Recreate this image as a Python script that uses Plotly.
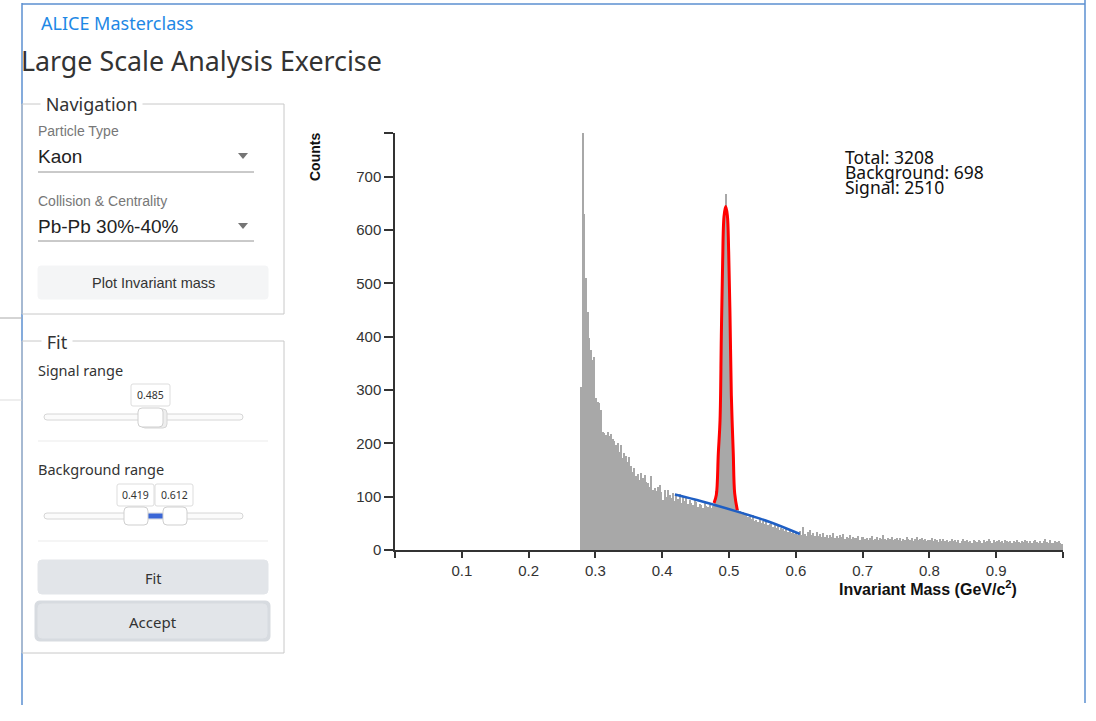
import plotly.graph_objects as go

# ---------------- data ----------------
bin_start = 0.2775
bin_width = 0.0025
counts = [
    306,
    782, 630, 510, 447,   # 0.28
    398, 375, 356, 362,   # 0.29
    285, 278, 275, 262,   # 0.30
    222, 219, 216, 221,   # 0.31
    214, 218, 209, 204,   # 0.32
    197, 201, 183, 196,   # 0.33
    172, 181, 176, 165,   # 0.34
    175, 157, 147, 153,   # 0.35
    138, 142, 131, 145,   # 0.36
    135, 141, 128, 125,   # 0.37
    119, 139, 113, 116,   # 0.38
    110, 119, 122, 108,   # 0.39
    94, 112, 100, 113,    # 0.40
    104, 98, 106, 92,     # 0.41
    101, 95, 105, 88,     # 0.42
    99, 91, 97, 86,       # 0.43
    93, 88, 84, 95,       # 0.44
    90, 81, 87, 85,       # 0.45
    79, 88, 83, 80,       # 0.46
    84, 78, 82, 92,       # 0.47
    110, 170, 260, 420,   # 0.48
    560, 630, 668, 600,   # 0.49
    470, 300, 170, 100,   # 0.50
    80, 76, 74, 70,       # 0.51
    72, 66, 68, 61,       # 0.52
    63, 58, 65, 55,       # 0.53
    57, 53, 59, 50,       # 0.54
    54, 49, 56, 47,       # 0.55
    48, 51, 44, 46,       # 0.56
    42, 45, 38, 41,       # 0.57
    39, 36, 40, 33,       # 0.58
    35, 31, 36, 30,       # 0.59
    33, 29, 35, 28,       # 0.60
    44, 30, 27, 33,       # 0.61
    37, 29, 31, 26,       # 0.62
    34, 27, 30, 25,       # 0.63
    31, 24, 28, 22,       # 0.64
    29, 25, 31, 23,       # 0.65
    26, 22, 28, 24,       # 0.66
    30, 21, 25, 23,       # 0.67
    28, 20, 24, 22,       # 0.68
    23, 26, 19, 24,       # 0.69
    25, 21, 23, 18,       # 0.70
    22, 27, 19, 21,       # 0.71
    24, 18, 22, 20,       # 0.72
    28, 21, 19, 23,       # 0.73
    20, 24, 18, 21,       # 0.74
    22, 19, 23, 17,       # 0.75
    21, 18, 24, 20,       # 0.76
    19, 23, 17, 21,       # 0.77
    25, 18, 20, 22,       # 0.78
    18, 21, 16, 19,       # 0.79
    19, 22, 17, 20,       # 0.80
    18, 15, 21, 17,       # 0.81
    20, 16, 19, 15,       # 0.82
    17, 20, 16, 18,       # 0.83
    15, 19, 14, 17,       # 0.84
    21, 16, 18, 15,       # 0.85
    17, 14, 19, 16,       # 0.86
    15, 18, 16, 14,       # 0.87
    19, 15, 17, 20,       # 0.88
    16, 14, 18, 15,       # 0.89
    17, 19, 15, 16,       # 0.90
    14, 18, 16, 15,       # 0.91
    16, 13, 17, 15,       # 0.92
    18, 15, 14, 17,       # 0.93
    15, 19, 16, 13,       # 0.94
    17, 14, 16, 18,       # 0.95
    15, 13, 17, 14,       # 0.96
    16, 20, 15, 14,       # 0.97
    18, 14, 13, 16,       # 0.98
    15, 17, 13, 12,       # 0.99
]

signal_fit_x = [0.4776, 0.4810, 0.4840, 0.4866, 0.4885, 0.4905, 0.4925, 0.4950,
                0.4975, 0.4995, 0.5015, 0.5035, 0.5050, 0.5064, 0.5085, 0.5124]
signal_fit_y = [88, 103, 181, 244, 400, 540, 625, 644,
                628, 560, 440, 290, 230, 181, 106, 75]

background_fit_x = [0.419, 0.460, 0.515, 0.560, 0.606]
background_fit_y = [104, 91, 71, 53, 30]

x_tick_vals = [0.1, 0.2, 0.3, 0.4, 0.5, 0.6, 0.7, 0.8, 0.9]
x_tick_text = ["0.1", "0.2", "0.3", "0.4", "0.5", "0.6", "0.7", "0.8", "0.9"]
x_end_ticks = [0.0, 1.0]
y_tick_vals = [0, 100, 200, 300, 400, 500, 600, 700]
y_tick_text = ["0", "100", "200", "300", "400", "500", "600", "700"]
y_max = 782

total_count = 3208
background_count = 698
signal_count = 2510

# ---------------- geometry helpers ----------------
W, H = 1096, 721


def px(x):
    return x / W


def py(y):
    return 1 - y / H


shapes = []
annotations = []


def rect(x0, y0, x1, y1, line="#cccccc", fill="rgba(0,0,0,0)", lw=1, layer="below"):
    shapes.append(dict(type="rect", xref="paper", yref="paper",
                       x0=px(x0), x1=px(x1), y0=py(y1), y1=py(y0),
                       line=dict(color=line, width=lw), fillcolor=fill, layer=layer))


def rrect(x0, y0, x1, y1, r, line="#cccccc", fill="white", lw=1, layer="above"):
    X0, X1 = px(x0), px(x1)
    Y0, Y1 = py(y0), py(y1)
    rx, ry = r / W, r / H
    p = (f"M{X0+rx},{Y0} L{X1-rx},{Y0} Q{X1},{Y0} {X1},{Y0-ry} "
         f"L{X1},{Y1+ry} Q{X1},{Y1} {X1-rx},{Y1} L{X0+rx},{Y1} "
         f"Q{X0},{Y1} {X0},{Y1+ry} L{X0},{Y0-ry} Q{X0},{Y0} {X0+rx},{Y0} Z")
    shapes.append(dict(type="path", xref="paper", yref="paper", path=p,
                       line=dict(color=line, width=lw), fillcolor=fill, layer=layer))


def hline(x0, x1, y, color="#cccccc", lw=1, layer="below"):
    shapes.append(dict(type="line", xref="paper", yref="paper",
                       x0=px(x0), x1=px(x1), y0=py(y), y1=py(y),
                       line=dict(color=color, width=lw), layer=layer))


def vline(x, y0, y1, color="#cccccc", lw=1, layer="below"):
    shapes.append(dict(type="line", xref="paper", yref="paper",
                       x0=px(x), x1=px(x), y0=py(y0), y1=py(y1),
                       line=dict(color=color, width=lw), layer=layer))


def tri(cx, cy, color="#757575"):
    p = (f"M{px(cx-5)},{py(cy-3)} L{px(cx+5)},{py(cy-3)} L{px(cx)},{py(cy+3)} Z")
    shapes.append(dict(type="path", xref="paper", yref="paper", path=p,
                       line=dict(color=color, width=0), fillcolor=color, layer="above"))


def text(x, y, s, size=14, color="#333333", family="Noto Sans", xanchor="left",
         yanchor="middle", bg=None, textangle=0):
    a = dict(xref="paper", yref="paper", x=px(x), y=py(y), text=s, showarrow=False,
             xanchor=xanchor, yanchor=yanchor, textangle=textangle, borderpad=0,
             font=dict(size=size, color=color, family=family))
    if bg:
        a["bgcolor"] = bg
    annotations.append(a)


UI = "Noto Sans"
ARIAL = "Liberation Sans"

# window frame
frame_blue = "#5b8fd0"
vline(22, 3, 705, color=frame_blue, lw=1.5)
hline(22, 1085, 4, color=frame_blue, lw=1.5)
vline(1085, 0, 703, color=frame_blue, lw=1.5)
hline(0, 22, 318, color="#aaaaaa", lw=1)
hline(0, 22, 400, color="#dddddd", lw=1)

# header
text(40, 23, "ALICE Masterclass", size=18, color="#1e88e5", family=UI)
text(20, 61, "Large Scale Analysis Exercise", size=26.8, color="#333333", family=UI)

# Navigation fieldset
rect(22, 104, 284, 314, line="#c8c8c8")
text(40, 104, " Navigation ", size=18, color="#333333", family=UI, bg="white")
text(37, 131, "Particle Type", size=14, color="#777777", family=ARIAL)
text(37, 156, "Kaon", size=19, color="#222222", family=ARIAL)
tri(243, 156)
hline(38, 254, 172, color="#949494", lw=1)
text(37, 201, "Collision & Centrality", size=14, color="#777777", family=ARIAL)
text(37, 226, "Pb-Pb 30%-40%", size=19, color="#222222", family=ARIAL)
tri(243, 226)
hline(38, 254, 241, color="#949494", lw=1)
rrect(38, 266, 268, 299, 3, line="#f4f5f6", fill="#f4f5f6", layer="below")
text(153, 283, "Plot Invariant mass", size=14.5, color="#333333", family=ARIAL, xanchor="center")

# Fit fieldset
rect(22, 341, 284, 653, line="#c8c8c8")
text(41, 342, " Fit ", size=18, color="#333333", family=UI, bg="white")
text(37, 370, "Signal range", size=14.5, color="#333333", family=UI)
rrect(131, 384, 170, 406, 2, line="#dddddd", fill="white")
text(150.5, 395, "0.485", size=10.5, color="#333333", family=UI, xanchor="center")
rrect(44, 414, 243, 420, 3, line="#d6d6d6", fill="#fbfbfb", layer="below")
rrect(141, 409, 167, 428, 4, line="#d6d6d6", fill="#eeeeee")
rrect(138, 408, 163, 427, 4, line="#cfcfcf", fill="white")
hline(38, 268, 441, color="#ebebeb")
text(37, 469, "Background range", size=14.5, color="#333333", family=UI)
rrect(117, 484, 154, 506, 2, line="#dddddd", fill="white")
text(135.5, 495, "0.419", size=10.5, color="#333333", family=UI, xanchor="center")
rrect(155, 484, 193, 506, 2, line="#dddddd", fill="white")
text(174, 495, "0.612", size=10.5, color="#333333", family=UI, xanchor="center")
rrect(44, 513, 243, 519, 3, line="#d6d6d6", fill="#fbfbfb", layer="below")
rect(146, 514, 165, 518, line="#3b67d6", fill="#3b67d6", layer="above")
rrect(124, 507, 148, 525, 4, line="#cfcfcf", fill="white")
rrect(163, 507, 187, 525, 4, line="#cfcfcf", fill="white")
hline(38, 268, 541, color="#ebebeb")
rrect(38, 560, 268, 594, 4, line="#e2e5e9", fill="#e2e5e9", layer="below")
text(153, 578, "Fit", size=14.5, color="#333333", family=UI, xanchor="center")
rrect(35, 601, 270, 641, 5, line="#d7dbe0", fill="#d7dbe0", layer="below", lw=1)
rrect(38, 604, 267, 638, 4, line="#e2e5e9", fill="#e2e5e9", layer="below")
text(153, 622, "Accept", size=15, color="#333333", family=UI, xanchor="center")

# chart labels
text(315, 157, "<b>Counts</b>", size=14, color="#111111", family=ARIAL,
     xanchor="center", textangle=-90)
text(928, 588, "<b>Invariant Mass (GeV/c<sup>2</sup>)</b>", size=16, color="#111111",
     family=ARIAL, xanchor="center")
text(844, 157, f"Total: {total_count}", size=17.5, color="#111111", family=UI)
text(844, 172, f"Background: {background_count}", size=17.5, color="#111111", family=UI)
text(844, 187, f"Signal: {signal_count}", size=17.5, color="#111111", family=UI)

# ---------------- figure ----------------
centers = [bin_start + (i + 0.5) * bin_width for i in range(len(counts))]

fig = go.Figure()
fig.add_trace(go.Bar(x=centers, y=counts, width=bin_width * 0.78,
                     marker=dict(color="#a8a8a8", line=dict(width=0)),
                     hoverinfo="x+y", name="Counts"))
fig.add_trace(go.Scatter(x=background_fit_x, y=background_fit_y, mode="lines",
                         line=dict(color="#1f5fc4", width=2.5, shape="spline"),
                         name="Background"))
fig.add_trace(go.Scatter(x=signal_fit_x, y=signal_fit_y, mode="lines",
                         line=dict(color="#ff0000", width=3, shape="spline"),
                         name="Signal"))

x_dom = [px(395), px(1063)]
y_dom = [py(550), py(133)]

axis_font = dict(family=ARIAL, size=15, color="#333333")
fig.update_layout(
    width=W, height=H, autosize=False,
    margin=dict(l=0, r=0, t=0, b=0, pad=0),
    paper_bgcolor="white", plot_bgcolor="white",
    showlegend=False,
    bargap=0,
    shapes=shapes,
    annotations=annotations,
    xaxis=dict(domain=x_dom, range=[0, 1.0], tickvals=x_tick_vals, ticktext=x_tick_text,
               showgrid=False, zeroline=False, showline=True, linecolor="#333333",
               linewidth=1.5, ticks="outside", ticklen=6, tickwidth=1.5,
               tickcolor="#333333", tickfont=axis_font, fixedrange=True, automargin=False,
               minor=dict(tickvals=x_end_ticks, ticks="outside", ticklen=6, tickwidth=1.5,
                          tickcolor="#333333", showgrid=False)),
    yaxis=dict(domain=y_dom, range=[0, y_max], tickvals=y_tick_vals, ticktext=y_tick_text,
               showgrid=False, zeroline=False, showline=True, linecolor="#333333",
               linewidth=1.5, ticks="outside", ticklen=9, tickwidth=1.5,
               tickcolor="#333333", tickfont=axis_font, fixedrange=True, automargin=False,
               minor=dict(tickvals=[y_max], ticks="outside", ticklen=9, tickwidth=1.5,
                          tickcolor="#333333", showgrid=False)),
)

post = (
    "document.documentElement.style.margin='0';"
    "document.documentElement.style.overflow='hidden';"
    "document.documentElement.style.height='721px';"
    "document.body.style.margin='0';"
    "document.body.style.padding='0';"
    "document.body.style.overflow='hidden';"
    "document.body.style.height='721px';"
)
fig.write_html("out.html", config={"displayModeBar": False, "responsive": False},
               post_script=post)
